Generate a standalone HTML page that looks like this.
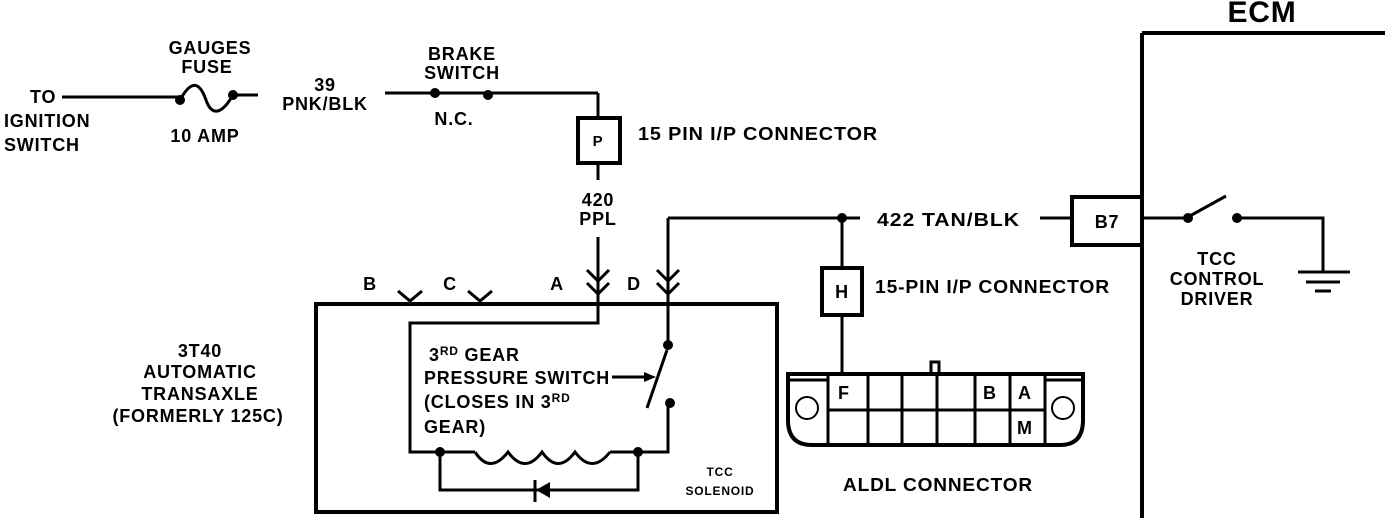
<!DOCTYPE html>
<html><head><style>
html,body{margin:0;padding:0;background:#fff;}
svg{display:block;}
text{font-family:"Liberation Sans",sans-serif;font-weight:bold;fill:#000;}
</style></head><body>
<svg width="1392" height="518" viewBox="0 0 1392 518">
<g stroke="#000" stroke-width="3" fill="none">
<line x1="62" y1="97" x2="178" y2="97"/>
<path d="M180 100 C192 78,200 83,206 100 C212 117,222 114,233 95"/>
<line x1="233" y1="95" x2="258" y2="95"/>
<line x1="385" y1="93" x2="598" y2="93"/>
<line x1="598" y1="93" x2="598" y2="118"/>
<rect x="578" y="118" width="42" height="45" stroke-width="4"/>
<line x1="598" y1="165" x2="598" y2="180"/>
<line x1="598" y1="237" x2="598" y2="296"/>
<polyline points="587,270 598,281 609,270"/>
<polyline points="587,283 598,294 609,283"/>
<polyline points="668,218 668,222 668,296"/>
<polyline points="668,218 860,218"/>
<polyline points="657,270 668,281 679,270"/>
<polyline points="657,283 668,294 679,283"/>
<polyline points="398,291 410,301 422,291"/>
<polyline points="468,291 480,301 492,291"/>
<line x1="1040" y1="218" x2="1072" y2="218"/>
<rect x="1072" y="197" width="70" height="48" stroke-width="4"/>
<line x1="1142" y1="33" x2="1142" y2="518" stroke-width="4"/>
<line x1="1142" y1="33" x2="1385" y2="33" stroke-width="4"/>
<line x1="1142" y1="218" x2="1186" y2="218"/>
<line x1="1188" y1="217" x2="1226" y2="196"/>
<polyline points="1237,218 1323,218 1323,272"/>
<line x1="1298" y1="272" x2="1350" y2="272"/>
<line x1="1306" y1="282" x2="1340" y2="282"/>
<line x1="1315" y1="291" x2="1331" y2="291"/>
<line x1="842" y1="218" x2="842" y2="268"/>
<rect x="822" y="268" width="40" height="47" stroke-width="4"/>
<line x1="842" y1="315" x2="842" y2="374"/>
<path d="M788 374 L1083 374 L1083 420 Q1083 445 1060 445 L812 445 Q788 445 788 420 Z" stroke-width="4"/>
<line x1="788" y1="380" x2="828" y2="380"/>
<line x1="1045" y1="380" x2="1083" y2="380"/>
<line x1="828" y1="374" x2="828" y2="445"/>
<line x1="868" y1="374" x2="868" y2="445"/>
<line x1="902" y1="374" x2="902" y2="445"/>
<line x1="937" y1="374" x2="937" y2="445"/>
<line x1="975" y1="374" x2="975" y2="445"/>
<line x1="1010" y1="374" x2="1010" y2="445"/>
<line x1="1045" y1="374" x2="1045" y2="445"/>
<line x1="828" y1="410" x2="1045" y2="410"/>
<circle cx="807" cy="408" r="11" stroke-width="2"/>
<circle cx="1063" cy="408" r="11" stroke-width="2"/>
<path d="M931 372 V362 H939 V372" stroke-width="3"/>
<rect x="316" y="304" width="461" height="208" stroke-width="4"/>
<polyline points="598,296 598,323 410,323 410,452 475,452"/>
<path d="M475 452 Q490 475 508 452 Q525 475 542 452 Q558 475 575 452 Q592 475 610 452"/>
<polyline points="610,452 668,452 668,403"/>
<line x1="668" y1="296" x2="668" y2="345"/>
<line x1="667" y1="350" x2="647" y2="408"/>
<line x1="612" y1="377" x2="650" y2="377"/>
<polyline points="440,452 440,490 638,490 638,452"/>
<line x1="535" y1="480" x2="535" y2="502"/>
</g>
<g fill="#000">
<circle cx="180" cy="100" r="5"/><circle cx="233" cy="95" r="5"/>
<circle cx="435" cy="93" r="5"/><circle cx="488" cy="95" r="5"/>
<circle cx="842" cy="218" r="5"/>
<circle cx="1188" cy="218" r="5"/><circle cx="1237" cy="218" r="5"/>
<circle cx="668" cy="345" r="5"/><circle cx="670" cy="403" r="5"/>
<circle cx="440" cy="452" r="5"/><circle cx="638" cy="452" r="5"/>
<polygon points="536,490 550,482 550,498"/>
<polygon points="656,377 644,372 644,382"/>
</g>
<g font-size="18" letter-spacing="0.8">
<text x="30" y="103">TO</text>
<text x="4" y="127">IGNITION</text>
<text x="4" y="151">SWITCH</text>
<text x="210" y="54" text-anchor="middle">GAUGES</text>
<text x="207" y="73" text-anchor="middle">FUSE</text>
<text x="205" y="142" text-anchor="middle">10 AMP</text>
<text x="325" y="91" text-anchor="middle">39</text>
<text x="325" y="110" text-anchor="middle">PNK/BLK</text>
<text x="462" y="60" text-anchor="middle">BRAKE</text>
<text x="462" y="79" text-anchor="middle">SWITCH</text>
<text x="454" y="125" text-anchor="middle">N.C.</text>
<text x="598" y="146" text-anchor="middle" font-size="15">P</text>
<text x="638" y="140" textLength="240" lengthAdjust="spacingAndGlyphs">15 PIN  I/P CONNECTOR</text>
<text x="598" y="206" text-anchor="middle">420</text>
<text x="598" y="225" text-anchor="middle">PPL</text>
<text x="877" y="226" textLength="143" lengthAdjust="spacingAndGlyphs">422 TAN/BLK</text>
<text x="1107" y="228" text-anchor="middle">B7</text>
<text x="1262" y="22" text-anchor="middle" font-size="30">ECM</text>
<text x="1217" y="265" text-anchor="middle">TCC</text>
<text x="1217" y="285" text-anchor="middle">CONTROL</text>
<text x="1217" y="305" text-anchor="middle">DRIVER</text>
<text x="842" y="298" text-anchor="middle">H</text>
<text x="875" y="293" textLength="235" lengthAdjust="spacingAndGlyphs">15-PIN I/P CONNECTOR</text>
<text x="838" y="399">F</text>
<text x="983" y="399">B</text>
<text x="1018" y="399">A</text>
<text x="1017" y="434">M</text>
<text x="843" y="491" textLength="190" lengthAdjust="spacingAndGlyphs">ALDL CONNECTOR</text>
<text x="370" y="290" text-anchor="middle">B</text>
<text x="450" y="290" text-anchor="middle">C</text>
<text x="557" y="290" text-anchor="middle">A</text>
<text x="634" y="290" text-anchor="middle">D</text>
<text x="200" y="357" text-anchor="middle">3T40</text>
<text x="200" y="378" text-anchor="middle">AUTOMATIC</text>
<text x="200" y="400" text-anchor="middle">TRANSAXLE</text>
<text x="198" y="422" text-anchor="middle">(FORMERLY 125C)</text>
<text x="429" y="361">3<tspan font-size="12" dy="-6">RD</tspan><tspan dy="6"> GEAR</tspan></text>
<text x="424" y="384" textLength="186" lengthAdjust="spacingAndGlyphs">PRESSURE SWITCH</text>
<text x="424" y="408">(CLOSES IN 3<tspan font-size="12" dy="-6">RD</tspan></text>
<text x="424" y="433">GEAR)</text>
<text x="720" y="476" text-anchor="middle" font-size="12">TCC</text>
<text x="720" y="495" text-anchor="middle" font-size="12">SOLENOID</text>
</g>
</svg>
</body></html>
